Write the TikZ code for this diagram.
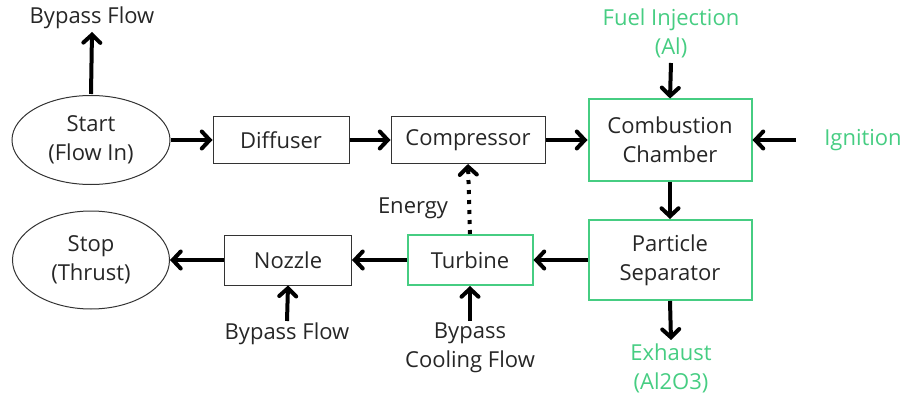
\documentclass[tikz,border=0pt]{standalone}
\usepackage{fontspec}
\setmainfont{Open Sans}
\usetikzlibrary{arrows.meta,shapes.geometric}
\definecolor{grn}{RGB}{70,205,130}
\tikzset{
  base/.style={font=\fontsize{22}{29}\selectfont, align=center, text=black!85},
  box/.style={base, draw=black!80, line width=1pt, minimum height=47pt, inner sep=0pt},
  gbox/.style={base, draw=grn, line width=2pt, inner sep=0pt},
  oval/.style={base, ellipse, draw=black!80, line width=1pt, inner sep=0pt},
  lbl/.style={base},
  glbl/.style={base, text=grn},
  arr/.style={line width=4pt, -{Straight Barb[length=8pt,width=17pt,line width=4pt, line cap=round]}},
  darr/.style={line width=4pt, dash pattern=on 4pt off 6pt, -{Straight Barb[length=8pt,width=17pt,line width=4pt, line cap=round]}}
}
\begin{document}
\begin{tikzpicture}[x=1pt,y=-1pt]
\useasboundingbox (0,0) rectangle (906,396);
\node[oval, minimum width=158pt, minimum height=89pt] (start) at (91,140) {Start\\(Flow In)};
\node[lbl] (bp1) at (92,18) {Bypass Flow};
\node[box, minimum width=136pt] (diff) at (281,140) {Diffuser};
\node[box, minimum width=154pt] (comp) at (468,140) {Compressor};
\node[gbox, minimum width=163pt, minimum height=81pt] (cc) at (670,140) {Combustion\\Chamber};
\node[glbl] (fuel) at (671,33) {Fuel Injection\\(Al)};
\node[glbl] (ign) at (863,140) {Ignition};
\node[gbox, minimum width=163pt, minimum height=80pt] (ps) at (670,260) {Particle\\Separator};
\node[glbl] (exh) at (671,368) {Exhaust\\(Al2O3)};
\node[gbox, minimum width=125pt, minimum height=50pt] (turb) at (470,260) {Turbine};
\node[lbl] (energy) at (413,208) {Energy};
\node[lbl] (bcf) at (470,348) {Bypass\\Cooling Flow};
\node[box, minimum width=127pt, minimum height=50pt] (noz) at (288,260) {Nozzle};
\node[lbl] (bp2) at (287,334) {Bypass Flow};
\node[oval, minimum width=157pt, minimum height=98pt] (stop) at (91,260) {Stop\\(Thrust)};

\coordinate (fuelend) at (671,63);
\coordinate (ignend) at (796,140);
\coordinate (exhend) at (671,340);
\coordinate (bcfend) at (470,321);
\coordinate (bp2end) at (287,321);
\coordinate (bp1end) at (92,32);

\draw[arr] (start.north) ++(0,-1) -- (bp1end);
\draw[arr] (start.east) -- (diff.west);
\draw[arr] (diff.east) -- (comp.west);
\draw[arr] (comp.east) -- (cc.west);
\draw[arr] (fuelend) -- (cc.north);
\draw[arr] (ignend) -- (cc.east);
\draw[arr] (cc.south) -- (ps.north);
\draw[arr] (ps.south) -- (exhend);
\draw[arr] (ps.west) -- (turb.east);
\draw[darr] (turb.north) -- (comp.south);
\draw[arr] (bcfend) -- (turb.south);
\draw[arr] (turb.west) -- (noz.east);
\draw[arr] (bp2end) -- (noz.south);
\draw[arr] (noz.west) -- (stop.east);
\end{tikzpicture}
\end{document}
